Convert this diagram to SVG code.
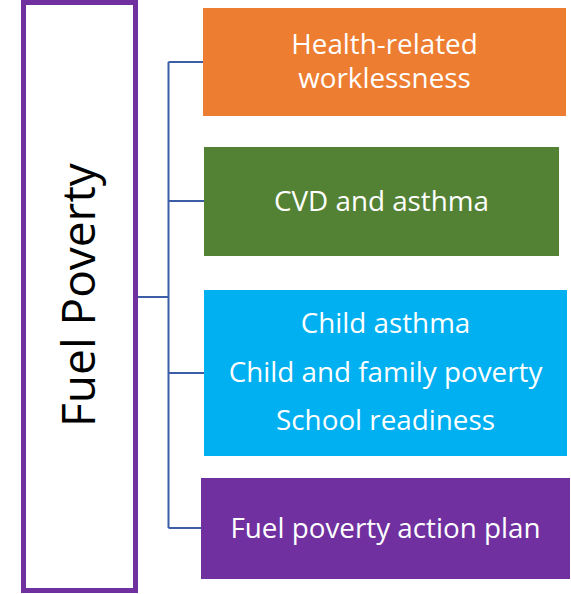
<svg xmlns="http://www.w3.org/2000/svg" width="571" height="594" viewBox="0 0 571 594">
<style>
.t{font-family:"Open Sans","Liberation Sans",sans-serif;fill:#fff;text-anchor:middle;font-size:27.8px}
.c{fill:none;stroke:#3B5EA6;stroke-width:2}
</style>
<rect width="571" height="594" fill="#fff"/>
<g id="fuel-poverty">
<rect x="23.5" y="2.5" width="112" height="588" fill="#fff" stroke="#7030A0" stroke-width="5"/>
<text transform="translate(95,295) rotate(-90)" x="0" y="0" style="font-family:'Open Sans','Liberation Sans',sans-serif;font-size:46px;fill:#000;text-anchor:middle">Fuel Poverty</text>
</g>
<g id="connectors">
<path class="c" d="M168.5 62V528M138 297H168.5M168.5 62H203M168.5 201H204M168.5 373H204M168.5 528H201"/>
</g>
<g id="health-worklessness">
<rect x="203" y="8" width="363" height="108" fill="#ED7D31"/>
<text class="t" x="384.5" y="54">Health-related</text>
<text class="t" x="384.5" y="88">worklessness</text>
</g>
<g id="cvd-asthma">
<rect x="204" y="147" width="355" height="109" fill="#548235"/>
<text class="t" x="381.5" y="211">CVD and asthma</text>
</g>
<g id="child">
<rect x="204" y="290" width="363" height="166" fill="#00B0F0"/>
<text class="t" x="385.5" y="333">Child asthma</text>
<text class="t" x="385.5" y="382">Child and family poverty</text>
<text class="t" x="385.5" y="430">School readiness</text>
</g>
<g id="action-plan">
<rect x="201" y="478" width="369" height="101" fill="#7030A0"/>
<text class="t" x="385.5" y="538">Fuel poverty action plan</text>
</g>
</svg>
